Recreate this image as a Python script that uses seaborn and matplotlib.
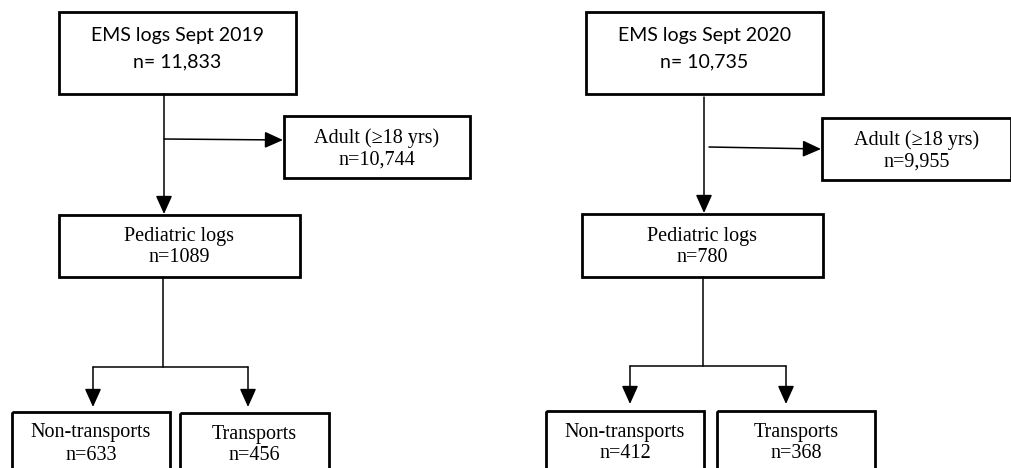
import matplotlib
matplotlib.use("Agg")
import matplotlib.pyplot as plt
import matplotlib.patches as mpatches
import seaborn as sns

# ----------------------------------------------------------------------
# data
# ----------------------------------------------------------------------
YEARS = ["2019", "2020"]
TOTAL_LOGS = [11833, 10735]
ADULT_LOGS = [10744, 9955]
PEDIATRIC_LOGS = [1089, 780]
NON_TRANSPORTS = [633, 412]
TRANSPORTS = [456, 368]

# ----------------------------------------------------------------------
# layout (pixel coordinates, y downwards) for each panel
# ----------------------------------------------------------------------
LAYOUT = [
    dict(top=(59, 12, 296, 94), adult=(284, 116, 470, 178),
         ped=(59, 215, 300, 277), non=(12, 412, 170, 480), trans=(180, 413, 329, 480),
         trunk_x=164, trunk_y0=94, branch_x0=164, branch_y=(139, 140),
         split_y=367, split_x=(93, 248), tip_y=407),
    dict(top=(586, 12, 823, 94), adult=(822, 118, 1011, 180),
         ped=(582, 214, 823, 277), non=(546, 411, 704, 480), trans=(717, 411, 875, 480),
         trunk_x=704, trunk_y0=97, branch_x0=709, branch_y=(147, 149),
         split_y=366, split_x=(630, 786), tip_y=404),
]

SANS = ["Lato", "DejaVu Sans"]
SERIF = ["Liberation Serif", "DejaVu Serif"]

sns.set_style("white")

fig = plt.figure(figsize=(10.12, 4.68), dpi=100)
ax = fig.add_axes([0, 0, 1, 1])
ax.set_xlim(0, 1012)
ax.set_ylim(468, 0)
ax.axis("off")


def box(rect, lines, family, size, y_lines):
    x0, y0, x1, y1 = rect
    ax.add_patch(mpatches.Rectangle((x0, y0), x1 - x0, y1 - y0, fill=False,
                                    edgecolor="black", linewidth=2.0, clip_on=True))
    cx = (x0 + x1) / 2
    for txt, ty in zip(lines, y_lines):
        ax.text(cx, ty, txt, ha="center", va="center", family=family,
                fontsize=size, color="black")


def arrow(x0, y0, x1, y1):
    ax.annotate("", xy=(x1, y1), xytext=(x0, y0),
                arrowprops=dict(arrowstyle="-|>,head_length=0.8,head_width=0.36",
                                color="black", lw=1.1, shrinkA=0, shrinkB=0,
                                mutation_scale=14))


for i, L in enumerate(LAYOUT):
    t = L["top"]
    box(t, [f"EMS logs Sept {YEARS[i]}", f"n= {TOTAL_LOGS[i]:,}"], SANS, 14,
        [t[1] + 23, t[1] + 50])
    a = L["adult"]
    box(a, ["Adult (\u226518 yrs)", f"n={ADULT_LOGS[i]:,}"], SERIF, 14.5,
        [a[1] + 22, a[1] + 44])
    p = L["ped"]
    box(p, ["Pediatric logs", f"n={PEDIATRIC_LOGS[i]}"], SERIF, 14.5,
        [p[1] + 22, p[1] + 43])
    n = L["non"]
    box(n, ["Non-transports", f"n={NON_TRANSPORTS[i]}"], SERIF, 14.5,
        [n[1] + 21, n[1] + 43])
    tr = L["trans"]
    box(tr, ["Transports", f"n={TRANSPORTS[i]}"], SERIF, 14.5,
        [tr[1] + 21, tr[1] + 43])

    # trunk down to pediatric box
    arrow(L["trunk_x"], L["trunk_y0"], L["trunk_x"], p[1] - 1)
    # branch to adult box
    arrow(L["branch_x0"], L["branch_y"][0], a[0] - 1, L["branch_y"][1])
    # split to non-transports / transports
    ax.plot([L["trunk_x"] - 1, L["trunk_x"] - 1], [p[3], L["split_y"]],
            color="black", lw=1.1)
    ax.plot([L["split_x"][0], L["split_x"][1]], [L["split_y"], L["split_y"]],
            color="black", lw=1.1)
    for sx in L["split_x"]:
        arrow(sx, L["split_y"], sx, L["tip_y"])

fig.savefig("out.png", dpi=100, facecolor="white")
